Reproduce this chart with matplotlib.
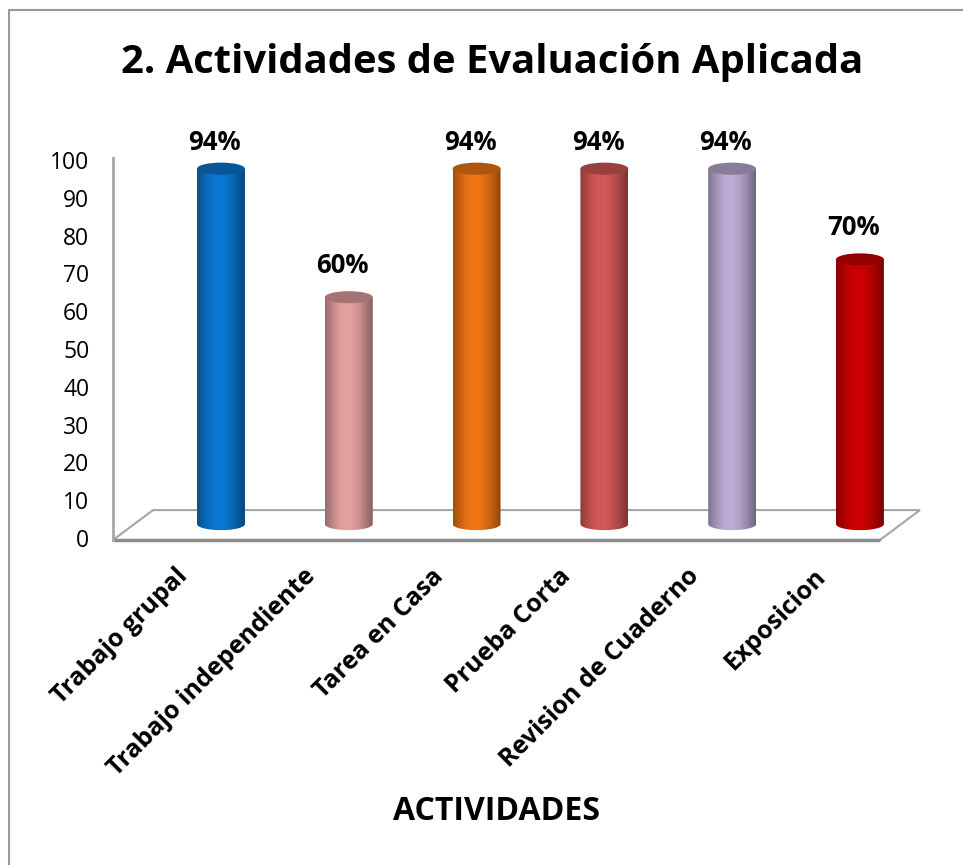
import numpy as np
import matplotlib
matplotlib.use('Agg')
import matplotlib.pyplot as plt
from matplotlib.patches import Ellipse, Polygon, Rectangle
from matplotlib.path import Path
from matplotlib.colors import to_rgb

plt.rcParams['font.family'] = ['Open Sans', 'DejaVu Sans']

categories = ['Trabajo grupal', 'Trabajo independiente', 'Tarea en Casa',
              'Prueba Corta', 'Revision de Cuaderno', 'Exposicion']
values = [94, 60, 94, 94, 94, 70]
colors = ['#0A78D2', '#E5A0A0', '#F27614', '#D45858', '#BEACD4', '#CC0000']
yticks = list(range(0, 101, 10))

title = '2. Actividades de Evaluación Aplicada'
xlabel = 'ACTIVIDADES'

# geometry of the fake 3d box (data units)
depth_dx = 0.313
depth_dy = 7.9
floor_y = -0.5
base = 3.7          # bars stand in the middle of the floor depth
bar_w = 0.375
ell_h = 3.2


def shade_profile(n=200):
    t = np.linspace(0, 1, n)
    f = np.where(t < 0.45,
                 0.66 + 0.34 * np.sin(np.pi / 2 * t / 0.45),
                 0.58 + 0.42 * np.cos(np.pi / 2 * (t - 0.45) / 0.55))
    return f


fig = plt.figure(figsize=(9.63, 8.65), dpi=100)
ax = fig.add_axes([113 / 963, 0.3692, (925 - 113) / 963, 0.4546])
xmin, xmax = -0.845, 5.509
ymin, ymax = -2, 102

# floor
n = len(categories)
x_left, x_right = xmin, xmin + (880 - 113) / 127.8
floor = Polygon([[x_left, floor_y], [x_right, floor_y],
                 [x_right + depth_dx, floor_y + depth_dy],
                 [x_left + depth_dx, floor_y + depth_dy]],
                closed=True, facecolor='white', edgecolor='#A6A6A6', lw=1.5, zorder=1)
ax.add_patch(floor)
ax.plot([x_left, x_right], [floor_y, floor_y], color='#8C8C8C', lw=2.5, zorder=1.5,
        solid_capstyle='butt')

prof = shade_profile()
for i, (v, c) in enumerate(zip(values, colors)):
    rgb = np.array(to_rgb(c))
    grad = np.clip(prof[:, None] * rgb[None, :], 0, 1)[None, :, :]
    x0, x1 = i - bar_w / 2, i + bar_w / 2
    top = base + v
    ang = np.linspace(np.pi, 2 * np.pi, 60)
    arc = np.column_stack([i + bar_w / 2 * np.cos(ang), base + ell_h / 2 * np.sin(ang)])
    verts = np.vstack([[x0, top], arc, [x1, top], [x0, top]])
    clip = Path(verts, closed=True)
    body = ax.imshow(grad, extent=[x0, x1, base - ell_h, top], aspect='auto',
                     interpolation='bilinear', zorder=3)
    body.set_clip_path(clip, ax.transData)
    cap = Ellipse((i, top), bar_w, ell_h, facecolor=np.clip(rgb * 0.72, 0, 1),
                  edgecolor='none', zorder=4)
    ax.add_patch(cap)
    off = 7 if v > 80 else 8.5
    ax.text(i - 0.05, top + off, '%d%%' % v, ha='center', va='center',
            fontsize=18.5, fontweight='bold', color='black', zorder=5)
    ax.text(i - 0.36, -6.8, categories[i], rotation=45, rotation_mode='anchor',
            ha='right', va='top', fontsize=18, fontweight='bold', clip_on=False)

ax.set_xlim(xmin, xmax)
ax.set_ylim(ymin, ymax)
for s in ['top', 'right', 'bottom']:
    ax.spines[s].set_visible(False)
ax.spines['left'].set_color('#A6A6A6')
ax.spines['left'].set_linewidth(2)
ax.spines['left'].set_bounds(floor_y, 100.5)
ax.set_xticks([])
ax.set_yticks(yticks)
ax.tick_params(axis='y', length=0, pad=17, labelsize=16.5)
ax.patch.set_visible(False)

fig.text(0.511, 0.928, title, ha='center', va='center', fontsize=28.8, fontweight='bold')
fig.text(0.516, 0.0613, xlabel, ha='center', va='center', fontsize=23, fontweight='bold')

border = Rectangle((9 / 963, -0.1), 1.2, 1.1 - 10 / 865, transform=fig.transFigure,
                   fill=False, edgecolor='#999999', lw=1.5, clip_on=False)
fig.patches.append(border)

fig.savefig('out.png', dpi=100)
